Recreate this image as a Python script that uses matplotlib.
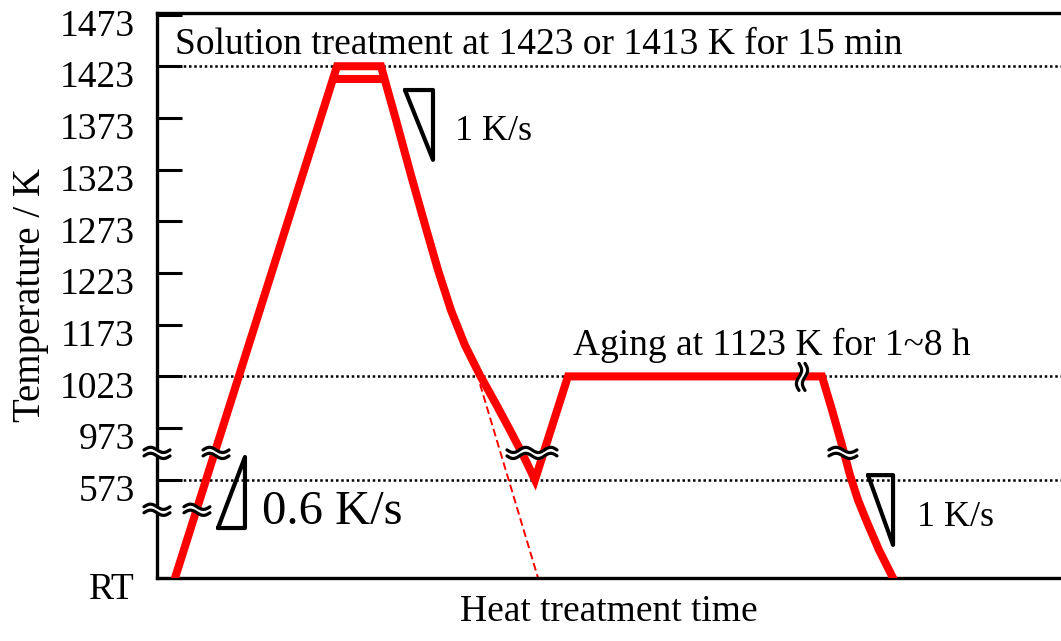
import numpy as np
import matplotlib
matplotlib.use("Agg")
import matplotlib.pyplot as plt
import matplotlib.transforms as mtransforms

plt.rcParams["font.family"] = ["Liberation Serif", "DejaVu Serif"]

# axis levels (broken, schematic temperature axis)
tick_levels = [0, 1.9, 2.9, 3.9, 4.9, 5.9, 6.9, 7.9, 8.9, 9.9, 10.9]
tick_labels = ["RT", "573", "973", "1023", "1173", "1223", "1273", "1323", "1373", "1423", "1473"]

# heat treatment path: heating, solution hold, cooling, reheat, aging, final cooling
path_t = [1.99, 19.91, 24.78, 26.44, 28.10, 29.65, 31.08, 32.52, 34.07, 35.73, 37.39, 39.05,
          40.60, 41.81, 45.46, 73.56, 74.67, 75.77, 76.66, 77.54, 78.54, 79.87, 81.42]
path_L = [0.0, 9.90, 9.90, 8.86, 7.79, 6.83, 5.96, 5.18, 4.50, 3.92, 3.40, 2.86,
          2.34, 1.90, 3.90, 3.90, 3.25, 2.57, 1.99, 1.51, 1.08, 0.54, 0.0]

# second hold level (1413 K)
hold2_t = [19.47, 25.05]
hold2_L = [9.65, 9.65]

# extrapolated constant-rate cooling
dash_t = [35.73, 42.15]
dash_L = [3.75, 0.0]

# reference levels drawn as dotted lines
ref_levels = [9.9, 3.9, 1.9]

# slope triangles
tri_heat_t = [6.75, 9.73, 9.73, 6.75]
tri_heat_L = [0.967, 0.967, 2.34, 0.967]
tri_cool1_t = [27.43, 30.53, 30.53, 27.43]
tri_cool1_L = [9.44, 9.44, 8.09, 9.44]
tri_cool2_t = [78.65, 81.42, 81.42, 78.65]
tri_cool2_L = [1.99, 1.99, 0.64, 1.99]

# break marks: (t, L, width in px, periods, vertical)
break_marks = [
    (0.0, 2.42, 26, 1, False),
    (0.0, 1.32, 26, 1, False),
    (6.53, 2.42, 26, 1, False),
    (4.42, 1.32, 26, 1, False),
    (41.48, 2.42, 50, 2, False),
    (75.88, 2.42, 28, 1, False),
    (71.35, 3.89, 27, 1, True),
]


def draw_break(ax, t, L, width, periods, vertical):
    # two wavy strokes with a white gap, drawn in pixel units around (t, L)
    s = np.linspace(-width / 2, width / 2, 80)
    amp, gap = 2.6, 6.0
    w1 = -amp * np.sin(2 * np.pi * periods * s / width) + gap / 2
    w2 = w1 - gap
    trans = mtransforms.Affine2D() + mtransforms.ScaledTranslation(t, L, ax.transData)
    if vertical:
        ax.fill_betweenx(s, -w1, -w2, color="white", transform=trans, zorder=5, clip_on=False)
        for w in (w1, w2):
            ax.plot(-w, s, color="black", lw=2.3, transform=trans, zorder=6,
                    solid_capstyle="round", clip_on=False)
    else:
        ax.fill_between(s, w2, w1, color="white", transform=trans, zorder=5, clip_on=False)
        for w in (w1, w2):
            ax.plot(s, w, color="black", lw=2.3, transform=trans, zorder=6,
                    solid_capstyle="round", clip_on=False)


fig = plt.figure(figsize=(10.61, 6.41), dpi=100)
ax = fig.add_axes([157 / 1061, 63 / 641, 904 / 1061, 565 / 641])
ax.set_xlim(0, 100)
ax.set_ylim(0, 10.93)

for lvl in ref_levels:
    ax.axhline(lvl, color="black", lw=1.8, linestyle=(0, (1, 1.1)), zorder=1)

ax.plot(path_t, path_L, color="#ff0000", lw=5.8, solid_joinstyle="miter", zorder=3)
ax.plot(hold2_t, hold2_L, color="#ff0000", lw=5.8, solid_capstyle="butt", zorder=3)
ax.plot(dash_t, dash_L, color="#ff0000", lw=1.4, linestyle=(0, (4, 2)), zorder=2)

for tt, ll in [(tri_heat_t, tri_heat_L), (tri_cool1_t, tri_cool1_L), (tri_cool2_t, tri_cool2_L)]:
    ax.plot(tt, ll, color="black", lw=3, solid_joinstyle="round", solid_capstyle="round", zorder=4)

for mark in break_marks:
    draw_break(ax, *mark)

ax.text(1.99, 10.31, "Solution treatment at 1423 or 1413 K for 15 min", fontsize=27, va="center", ha="left")
ax.text(46.0, 4.5, "Aging at 1123 K for 1~8 h", fontsize=27, va="center", ha="left")
ax.text(11.62, 1.28, "0.6 K/s", fontsize=35, va="center", ha="left")
ax.text(32.96, 8.63, "1 K/s", fontsize=26, va="center", ha="left")
ax.text(84.07, 1.18, "1 K/s", fontsize=26, va="center", ha="left")

ax.set_yticks(tick_levels)
ax.set_yticklabels(tick_labels)
ax.set_xticks([])
ax.tick_params(axis="y", direction="in", length=18, width=2.2, pad=16, labelsize=27)
# labels sit a little below their ticks
shift = mtransforms.ScaledTranslation(0, -0.08, fig.dpi_scale_trans)
for lab in ax.get_yticklabels():
    lab.set_transform(lab.get_transform() + shift)
ax.set_ylabel("Temperature / K", fontsize=28, labelpad=8)
ax.set_xlabel("Heat treatment time", fontsize=27, labelpad=12)

for side in ["left", "top", "bottom"]:
    ax.spines[side].set_linewidth(2.4)
ax.spines["right"].set_visible(False)

fig.savefig("out.png", dpi=100)
